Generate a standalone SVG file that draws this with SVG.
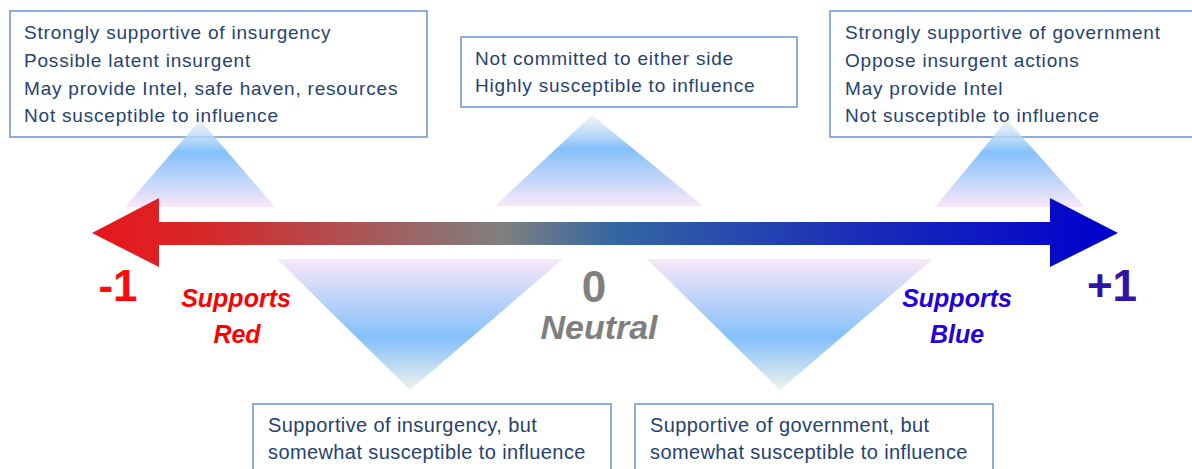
<svg xmlns="http://www.w3.org/2000/svg" width="1192" height="469" viewBox="0 0 1192 469">
  <defs>
    <linearGradient id="gUp" x1="0" y1="0" x2="0" y2="1">
      <stop offset="0" stop-color="#e4ecf2" stop-opacity="0.6"/>
      <stop offset="0.37" stop-color="#84c0fa"/>
      <stop offset="1" stop-color="#f9e8f8"/>
    </linearGradient>
    <linearGradient id="gDown" x1="0" y1="0" x2="0" y2="1">
      <stop offset="0" stop-color="#f9e8f8"/>
      <stop offset="0.6" stop-color="#84c0fa"/>
      <stop offset="1" stop-color="#eef2ec"/>
    </linearGradient>
    <linearGradient id="gArrow" gradientUnits="userSpaceOnUse" x1="92" y1="0" x2="1118" y2="0">
      <stop offset="0" stop-color="#e8161a"/>
      <stop offset="0.12" stop-color="#d42a2c"/>
      <stop offset="0.40" stop-color="#808080"/>
      <stop offset="0.51" stop-color="#3466a2"/>
      <stop offset="0.75" stop-color="#1a2cb8"/>
      <stop offset="1" stop-color="#0000cc"/>
    </linearGradient>
    <style>
      .box { fill: #ffffff; stroke: #6a93ca; stroke-width: 1.5; }
      .txt { font-family: "Liberation Sans", Arial, sans-serif; font-size: 19px; letter-spacing: 0.8px; fill: #26426f; }
      .txtb { font-family: "Liberation Sans", Arial, sans-serif; font-size: 20px; letter-spacing: 0.4px; fill: #26426f; }
      .lbl { font-family: "Liberation Sans", Arial, sans-serif; font-weight: bold; font-style: italic; font-size: 25px; text-anchor: middle; }
      .num { font-family: "Liberation Sans", Arial, sans-serif; font-weight: bold; font-size: 44px; text-anchor: middle; }
      .neutral { font-size: 34px; }
    </style>
  </defs>

  <g id="box-strong-red">
    <rect class="box" x="10" y="11" width="417" height="126"/>
    <text class="txt" x="24" y="39">Strongly supportive of insurgency</text>
    <text class="txt" x="24" y="67">Possible latent insurgent</text>
    <text class="txt" x="24" y="95">May provide Intel, safe haven, resources</text>
    <text class="txt" x="24" y="122">Not susceptible to influence</text>
  </g>
  <g id="box-neutral">
    <rect class="box" x="461" y="37" width="336" height="70"/>
    <text class="txt" x="475" y="65">Not committed to either side</text>
    <text class="txt" x="475" y="92">Highly susceptible to influence</text>
  </g>
  <g id="box-strong-blue">
    <rect class="box" x="830" y="11" width="380" height="126"/>
    <text class="txt" x="845" y="39">Strongly supportive of government</text>
    <text class="txt" x="845" y="67">Oppose insurgent actions</text>
    <text class="txt" x="845" y="95">May provide Intel</text>
    <text class="txt" x="845" y="122">Not susceptible to influence</text>
  </g>
  <g id="box-lean-red">
    <rect class="box" x="253" y="404" width="358" height="80"/>
    <text class="txtb" x="268" y="432">Supportive of insurgency, but</text>
    <text class="txtb" x="268" y="459">somewhat susceptible to influence</text>
  </g>
  <g id="box-lean-blue">
    <rect class="box" x="635" y="404" width="358" height="80"/>
    <text class="txtb" x="650" y="432">Supportive of government, but</text>
    <text class="txtb" x="650" y="459">somewhat susceptible to influence</text>
  </g>

  <g id="connectors">
    <polygon points="200,120 275,207 125,207" fill="url(#gUp)"/>
    <polygon points="592,115 703,206 495,206" fill="url(#gUp)"/>
    <polygon points="1007,120 1085,207 935,207" fill="url(#gUp)"/>
    <polygon points="277,259 563,259 410,390" fill="url(#gDown)"/>
    <polygon points="647,259 933,259 780,390" fill="url(#gDown)"/>
  </g>

  <g id="axis">
    <polygon points="92,233 159,198 159,222 1050,222 1050,198 1118,233 1050,267 1050,245 159,245 159,267" fill="url(#gArrow)"/>
  </g>

  <g id="labels">
    <text class="num" x="118" y="301" fill="#ff0a0a">-1</text>
    <text class="num" x="594" y="302" fill="#808080">0</text>
    <text class="num" x="1112" y="301" fill="#3214a4">+1</text>
    <text class="lbl" x="236" y="307" fill="#ff0000">Supports</text>
    <text class="lbl" x="237" y="343" fill="#ff0000">Red</text>
    <text class="lbl neutral" x="599" y="339" fill="#7f7f7f">Neutral</text>
    <text class="lbl" x="957" y="307" fill="#2200dd">Supports</text>
    <text class="lbl" x="957" y="343" fill="#2200dd">Blue</text>
  </g>
</svg>
